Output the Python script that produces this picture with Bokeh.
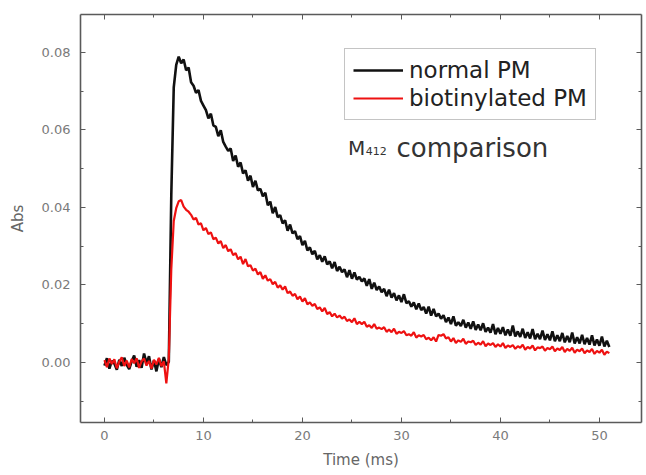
from bokeh.plotting import figure
from bokeh.models import (ColumnDataSource, LinearAxis, FixedTicker, Range1d,
                          Legend, LegendItem, Label, CustomJSTickFormatter)
from bokeh.embed import file_html
from bokeh.resources import INLINE

# ---- data (absorbance in mAbs, sampled every 0.25 ms from t = 0) ----
sample_step_ms = 0.25
normal_pm = [
    -0.8, 1.1, -1.6, 0.4,
    -0.3, -1.9, 0.7, -0.9,
    1.2, -0.6, -1.7, 0.3,
    1.8, -1.1, 0.6, -1.4,
    2.3, -0.2, 1.6, -1.8,
    0.5, -2.3, 0.9, -1.2,
    1.4, -0.7, 0.2, 43.0,
    71.0, 76.8, 78.9, 77.2,
    78.2, 75.4, 76.1, 72.3,
    71.4, 69.6, 70.3, 67.5,
    66.3, 65.1, 63.0, 64.2,
    61.2, 60.8, 58.4, 59.9,
    56.9, 55.7, 54.6, 55.2,
    52.0, 53.4, 50.5, 51.6,
    48.8, 49.6, 46.9, 48.2,
    45.3, 46.9, 44.4, 44.8,
    42.9, 43.8, 40.6, 41.5,
    38.5, 40.1, 37.5, 38.0,
    35.9, 36.7, 34.0, 35.6,
    33.3, 33.9, 31.8, 32.6,
    30.3, 31.4, 28.9, 29.7,
    27.9, 28.8, 26.6, 27.7,
    26.0, 27.4, 25.3, 26.1,
    24.3, 25.9, 23.6, 24.7,
    23.3, 24.0, 22.0, 23.8,
    21.6, 23.2, 21.4, 22.1,
    20.9, 21.7, 19.8, 21.5,
    19.0, 20.6, 18.7, 19.6,
    18.1, 19.0, 17.1, 18.8,
    16.7, 17.9, 16.0, 17.3,
    15.6, 17.6, 15.3, 15.8,
    14.4, 15.5, 13.7, 15.2,
    13.5, 14.3, 12.6, 14.4,
    12.1, 13.8, 11.9, 12.6,
    11.3, 12.2, 10.4, 11.6,
    9.9, 11.9, 9.5, 10.4,
    9.4, 11.0, 9.0, 10.3,
    8.7, 10.6, 8.4, 9.8,
    8.3, 10.1, 7.9, 9.0,
    7.7, 9.9, 7.3, 8.9,
    7.4, 9.1, 7.0, 8.5,
    6.9, 9.5, 6.7, 8.0,
    6.6, 8.7, 6.3, 7.8,
    6.2, 8.6, 6.0, 7.4,
    6.0, 8.2, 5.8, 7.3,
    5.7, 8.0, 5.5, 7.0,
    5.5, 7.6, 5.2, 6.8,
    5.2, 7.7, 4.9, 6.5,
    4.9, 7.1, 4.7, 6.3,
    4.6, 7.0, 4.4, 5.9,
    4.3, 6.7, 4.1, 5.6,
    4.0,
]
biotinylated_pm = [
    0.6, -1.2, 1.0, -0.4,
    0.8, -1.5, 0.2, 1.3,
    -0.9, 0.5, -1.3, 0.9,
    -0.2, 1.1, -1.4, 0.3,
    1.0, -0.8, 0.4, -1.6,
    0.7, -0.5, 1.2, -1.0,
    0.3, -5.4, 1.0, 24.0,
    36.5, 39.8, 41.6, 41.9,
    40.2, 39.4, 38.9, 38.1,
    36.9, 37.3, 35.6, 35.9,
    34.1, 34.7, 33.1, 33.6,
    31.8, 32.2, 30.7, 31.3,
    29.5, 30.3, 28.7, 29.2,
    27.7, 28.2, 26.6, 27.3,
    25.4, 26.7, 24.8, 25.1,
    23.7, 24.2, 22.7, 23.3,
    21.6, 22.5, 21.1, 21.5,
    20.2, 20.8, 19.3, 19.9,
    18.8, 19.6, 17.9, 18.3,
    17.2, 17.7, 16.3, 17.0,
    15.7, 16.6, 15.0, 15.5,
    14.6, 15.1, 13.8, 14.2,
    13.2, 14.1, 12.5, 13.0,
    11.9, 12.6, 11.6, 12.1,
    11.3, 11.8, 10.7, 11.1,
    10.4, 11.4, 9.9, 10.5,
    9.9, 10.5, 9.2, 9.6,
    8.9, 9.9, 8.7, 9.0,
    8.6, 9.1, 7.9, 8.5,
    7.8, 8.7, 7.4, 7.9,
    7.6, 8.1, 7.0, 7.3,
    6.9, 7.8, 6.4, 7.0,
    6.7, 7.1, 6.0, 6.4,
    5.7, 6.5, 5.4, 7.1,
    6.9, 7.3, 6.2, 6.5,
    5.4, 6.3, 5.0, 5.7,
    5.3, 6.1, 4.8, 5.4,
    5.2, 5.6, 4.5, 5.1,
    4.6, 5.5, 4.2, 4.9,
    4.5, 5.0, 4.0, 4.7,
    4.1, 5.0, 3.7, 4.4,
    4.0, 4.5, 3.5, 4.2,
    3.8, 4.6, 3.3, 4.0,
    3.6, 4.4, 3.1, 3.9,
    3.7, 4.1, 3.0, 3.7,
    3.4, 4.1, 2.9, 3.6,
    3.2, 4.0, 2.7, 3.5,
    3.0, 3.8, 2.5, 3.3,
    2.9, 3.6, 2.4, 3.1,
    2.7, 3.5, 2.2, 3.0,
    2.5, 3.3, 2.0, 2.8,
    2.4,
]
x_ticks = [0, 10, 20, 30, 40, 50]
x_minor_ticks = [5, 15, 25, 35, 45]
y_ticks = [0.00, 0.02, 0.04, 0.06, 0.08]
y_minor_ticks = [-0.01, 0.01, 0.03, 0.05, 0.07]
series_names = ["normal PM", "biotinylated PM"]

time_ms = [i * sample_step_ms for i in range(len(normal_pm))]
src_n = ColumnDataSource(dict(t=time_ms, a=[v / 1000 for v in normal_pm]))
src_b = ColumnDataSource(dict(t=time_ms[:len(biotinylated_pm)],
                              a=[v / 1000 for v in biotinylated_pm]))

FONT = "DejaVu Sans"
AX = "#5a5a5a"
LBL = "#7a7a7a"
BLACK = "#111111"
RED = "#ee1111"

p = figure(width=646, height=475, output_backend="svg", toolbar_location=None,
           x_range=Range1d(-2.42, 54.25), y_range=Range1d(-0.0155, 0.0898),
           min_border_left=80, min_border_right=5, min_border_top=14,
           min_border_bottom=53)
p.xgrid.visible = False
p.ygrid.visible = False
p.outline_line_color = None
p.background_fill_color = "white"
p.border_fill_color = "white"

r_n = p.line("t", "a", source=src_n, line_color=BLACK, line_width=2.6)
r_b = p.line("t", "a", source=src_b, line_color=RED, line_width=2.2)

def style_axis(ax, show_labels):
    ax.axis_line_color = AX
    ax.axis_line_width = 1.6
    ax.major_tick_line_color = AX
    ax.minor_tick_line_color = AX
    ax.major_tick_in = 5
    ax.major_tick_out = 0
    ax.minor_tick_in = 3
    ax.minor_tick_out = 0
    if show_labels:
        ax.major_label_text_font = FONT
        ax.major_label_text_font_size = "13px"
        ax.major_label_text_color = LBL
        ax.axis_label_text_font = FONT
        ax.axis_label_text_font_size = "15px"
        ax.axis_label_text_font_style = "normal"
        ax.axis_label_text_color = "#666666"
    else:
        ax.formatter = CustomJSTickFormatter(code="return '';")
        ax.major_label_standoff = 0
        ax.axis_label = None

xa = p.xaxis[0]
xa.ticker = FixedTicker(ticks=x_ticks, minor_ticks=x_minor_ticks)
xa.axis_label = "Time (ms)"
style_axis(xa, True)
xa.major_label_standoff = 8
xa.axis_label_standoff = 8

ya = p.yaxis[0]
ya.ticker = FixedTicker(ticks=y_ticks, minor_ticks=y_minor_ticks)
ya.axis_label = "Abs"
style_axis(ya, True)
ya.major_label_standoff = 10
ya.axis_label_standoff = 12
ya.major_label_orientation = "horizontal"
ya.formatter = CustomJSTickFormatter(code="return tick.toFixed(2);")

top = LinearAxis(ticker=FixedTicker(ticks=x_ticks, minor_ticks=x_minor_ticks))
style_axis(top, False)
p.add_layout(top, "above")
right = LinearAxis(ticker=FixedTicker(ticks=y_ticks, minor_ticks=y_minor_ticks))
style_axis(right, False)
p.add_layout(right, "right")

legend = Legend(items=[LegendItem(label=series_names[0], renderers=[r_n]),
                       LegendItem(label=series_names[1], renderers=[r_b])],
                location=(264, 302))
legend.label_text_font = FONT
legend.label_text_font_size = "23px"
legend.label_text_color = "#222222"
legend.border_line_color = "#8a8a8a"
legend.border_line_width = 1
legend.padding = 8
legend.spacing = 2
legend.margin = 0
legend.label_height = 24
legend.glyph_height = 24
legend.glyph_width = 50
legend.label_standoff = 6
legend.background_fill_alpha = 1
p.add_layout(legend)

for txt, xx, yy, size in [("M", 24.6, 0.0553, "20px"),
                          ("412", 26.4, 0.0546, "11px"),
                          ("comparison", 29.5, 0.0553, "26px")]:
    p.add_layout(Label(x=xx, y=yy, text=txt, text_font=FONT,
                       text_font_size=size, text_color="#333333",
                       text_baseline="alphabetic"))

open("out.html", "w").write(file_html(p, INLINE))
